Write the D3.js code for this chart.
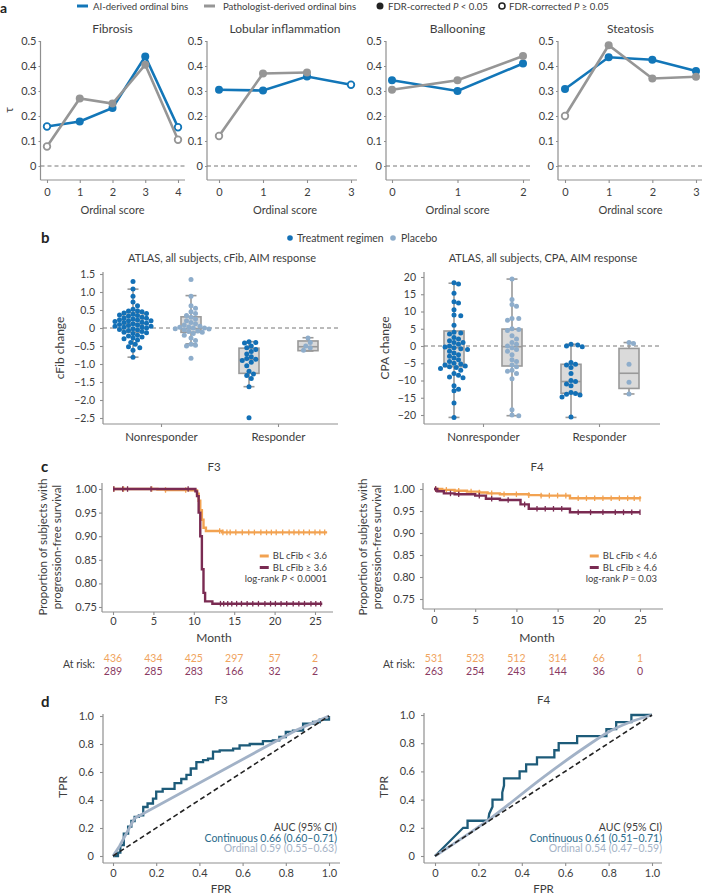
<!DOCTYPE html>
<html><head><meta charset="utf-8">
<script src="https://cdn.jsdelivr.net/npm/d3@7/dist/d3.min.js"></script>
<style>body{margin:0;background:#fff}svg{display:block}</style>
</head><body><script>
// ---------------- DATA ----------------
// Panel a
const aTitles = ["Fibrosis", "Lobular inflammation", "Ballooning", "Steatosis"];
const aScores = [[0,1,2,3,4],[0,1,2,3],[0,1,2],[0,1,2,3]];
const aiTau   = [[0.158,0.178,0.232,0.438,0.155],[0.305,0.302,0.358,0.325],[0.343,0.300,0.410],[0.308,0.435,0.425,0.380]];
const aiSig   = [[0,1,1,1,0],[1,1,1,0],[1,1,1],[1,1,1,1]];
const pathTau = [[0.078,0.270,0.250,0.405,0.105],[0.120,0.370,0.374],[0.305,0.343,0.440],[0.200,0.483,0.350,0.357]];
const pathSig = [[0,1,1,1,0],[0,1,1],[1,1,1],[0,1,1,1]];
const tauTicks = [0,0.1,0.2,0.3,0.4,0.5];

// Panel b
const bCategories = ["Nonresponder","Responder"];
const bGroups = ["Treatment regimen","Placebo"];
const cfibTxNR = [1.29,1.08,0.88,0.72,0.62,0.52,0.48,0.47,0.45,0.42,0.40,0.38,0.36,0.35,0.33,0.30,0.28,0.27,0.25,0.23,0.22,0.20,0.20,0.18,0.16,0.15,0.13,0.12,0.10,0.08,0.07,0.05,0.05,0.03,0.02,0.00,-0.02,-0.04,-0.05,-0.07,-0.10,-0.12,-0.13,-0.15,-0.20,-0.22,-0.25,-0.28,-0.30,-0.33,-0.40,-0.45,-0.52,-0.55,-0.62,-0.81];
const cfibPbNR = [1.35,0.88,0.62,0.55,0.45,0.40,0.35,0.30,0.25,0.20,0.15,0.12,0.08,0.05,0.03,0.02,0.00,0.00,-0.02,-0.03,-0.05,-0.08,-0.10,-0.12,-0.15,-0.20,-0.28,-0.35,-0.45,-0.48,-0.50,-0.84];
const cfibTxR  = [-0.38,-0.40,-0.42,-0.50,-0.55,-0.60,-0.65,-0.72,-0.80,-0.85,-0.87,-0.90,-0.95,-1.05,-1.20,-1.28,-1.32,-1.40,-1.63,-2.49];
const cfibPbR  = [-0.28,-0.40,-0.50,-0.55,-0.62];
const cfibQ3  = [0.43, 0.31, -0.56, -0.36];
const cfibMed = [0.12, -0.02, -0.87, -0.52];
const cfibQ1  = [-0.12, -0.12, -1.26, -0.63];
const cfibHi  = [1.08, 0.90, -0.38, -0.27];
const cfibLo  = [-0.81, -0.44, -1.63, -0.64];
const cfibTicks = [1.5,1.0,0.5,0,-0.5,-1.0,-1.5,-2.0,-2.5];

const cpaTxNR = [18.3,18.0,15.3,12.8,12.5,10.5,9.0,8.8,6.0,4.0,3.8,3.5,2.5,2.0,1.5,1.0,1.0,0.5,0.0,-0.3,-0.5,-0.8,-1.0,-1.5,-2.0,-2.5,-3.0,-3.5,-4.0,-4.5,-5.0,-5.2,-5.5,-5.8,-6.0,-6.2,-6.5,-7.0,-8.0,-8.5,-9.0,-9.2,-11.5,-12.5,-13.0,-16.5,-20.7];
const cpaPbNR = [19.4,13.5,12.0,11.5,8.0,8.0,7.5,5.0,4.8,4.5,3.0,2.0,1.0,0.5,0.0,-0.5,-1.0,-1.5,-2.5,-4.0,-4.5,-5.5,-6.0,-7.0,-7.3,-8.0,-9.5,-18.5,-20.0,-20.2];
const cpaTxR  = [0.5,0.3,0.0,-0.2,-4.8,-5.3,-5.5,-6.2,-8.0,-10.0,-10.3,-11.0,-11.5,-13.5,-13.8,-14.0,-14.2,-14.8,-20.6];
const cpaPbR  = [1.0,0.7,-5.3,-10.5,-13.9];
const cpaQ3  = [4.35, 4.9, -5.3, -0.7];
const cpaMed = [-0.5, -0.2, -10.3, -7.9];
const cpaQ1  = [-6.0, -5.8, -13.7, -12.3];
const cpaHi  = [18.2, 19.4, 0.5, 1.0];
const cpaLo  = [-20.7, -20.2, -20.7, -13.9];
const cpaTicks = [20,15,10,5,0,-5,-10,-15,-20];

// Panel c
const kmYTicks = [1.00,0.95,0.90,0.85,0.80,0.75];
const kmXTicks = [0,5,10,15,20,25];
const f3LowT = [0,5.5,6.5,9.5,10.4,10.6,10.8,11.0,11.2,11.5,13.5,26.5];
const f3LowS = [1,0.999,0.998,0.997,0.99,0.975,0.955,0.935,0.918,0.911,0.908,0.908];
const f3LowCens = [0.1,1.3,4.8,6.5,9.0,13.2,13.6,14.1,14.5,15.2,16.0,16.8,17.5,18.3,19.0,19.6,20.2,21.0,21.8,22.4,23.0,23.6,24.3,25.0,25.6,26.2];
const f3HighT = [0,10.2,10.4,10.6,10.8,11.0,11.2,11.4,12.3,25.9];
const f3HighS = [1,0.995,0.985,0.95,0.9,0.83,0.78,0.762,0.757,0.757];
const f3HighCens = [0.1,1.2,1.8,4.7,9.3,13.3,13.7,14.2,14.7,15.3,15.9,16.6,17.3,18.0,18.8,19.5,20.1,20.8,21.5,22.3,23.0,23.7,24.5,25.1,25.7];
const f3Risk = [["436","434","425","297","57","2"],["289","285","283","166","32","2"]];
const f4LowT = [0,1,2.5,4,5.5,6.5,8,11.5,13,16.5,25];
const f4LowS = [1,0.998,0.996,0.994,0.992,0.99,0.988,0.986,0.985,0.979,0.978];
const f4LowCens = [0.2,1.5,3,4.5,5.5,7,8.5,10,11.5,13,14,15,16,17.5,18.5,19.5,20.5,21.5,22.5,23.5,24.3,25];
const f4HighT = [0,0.4,1.2,2.5,5,6.3,8,10.5,11.5,16.5,25];
const f4HighS = [1,0.995,0.99,0.988,0.985,0.978,0.975,0.965,0.955,0.947,0.947];
const f4HighCens = [0.2,2,3,5.5,7,9,11,12.5,13.5,14.5,15.5,17.5,19,20.5,22,23,24,25];
const f4Risk = [["531","523","512","314","66","1"],["263","254","243","144","36","0"]];

// Panel d
const rocTicks = [0,0.2,0.4,0.6,0.8,1.0];
const f3ContFpr = [0,0.023,0.034,0.05,0.07,0.085,0.10,0.12,0.14,0.16,0.185,0.20,0.23,0.26,0.285,0.316,0.34,0.36,0.386,0.417,0.44,0.463,0.494,0.556,0.586,0.633,0.694,0.74,0.77,0.80,0.833,0.88,0.926,0.957,1.0];
const f3ContTpr = [0,0.024,0.078,0.16,0.21,0.25,0.28,0.29,0.35,0.375,0.41,0.46,0.48,0.48,0.52,0.55,0.58,0.625,0.67,0.685,0.695,0.745,0.755,0.767,0.79,0.80,0.82,0.826,0.85,0.886,0.895,0.945,0.957,0.974,1.0];
const f3OrdFpr = [0,0.03,0.1,0.85,1.0];
const f3OrdTpr = [0,0.07,0.27,0.90,1.0];
const f4ContFpr = [0,0.13,0.15,0.15,0.245,0.25,0.265,0.265,0.31,0.31,0.318,0.318,0.39,0.39,0.42,0.42,0.47,0.47,0.55,0.55,0.57,0.57,0.655,0.655,0.79,0.79,0.835,0.835,0.905,0.905,1.0];
const f4ContTpr = [0,0.2,0.2,0.25,0.25,0.3,0.35,0.4,0.4,0.45,0.5,0.55,0.55,0.6,0.6,0.65,0.65,0.7,0.7,0.75,0.75,0.8,0.8,0.85,0.85,0.9,0.9,0.95,0.95,1.0,1.0];
const f4OrdFpr = [0,0.25,0.5,0.7,0.8,0.9,1.0];
const f4OrdTpr = [0,0.26,0.56,0.78,0.88,0.95,1.0];
const aucLabels = [["AUC (95% CI)","Continuous 0.66 (0.60–0.71)","Ordinal 0.59 (0.55–0.63)"],["AUC (95% CI)","Continuous 0.61 (0.51–0.71)","Ordinal 0.54 (0.47–0.59)"]];

// ---------------- STYLE ----------------
const FONT = "Lato, 'Open Sans', sans-serif";
const TXT = "#3d3d3d", AX = "#8f8f8f";
const BLUE = "#1276b8", GRAY = "#969696";
const TX = "#1370b6", PB = "#8eadcb";
const ORANGE = "#f2a251", PURPLE = "#7a2b52";
const TEAL = "#1d5b79", LGB = "#a2b2c7";

const svg = d3.select("body").append("svg").attr("width",703).attr("height",896)
  .attr("font-family",FONT);

function text(x,y,s,o={}) {
  const t = svg.append("text").attr("x",x).attr("y",y).text(s)
    .attr("font-size",o.size||11).attr("text-anchor",o.anchor||"start")
    .attr("fill",o.fill||TXT);
  if (o.weight) t.attr("font-weight",o.weight);
  if (o.rot) t.attr("transform",`rotate(-90,${x},${y})`);
  return t;
}
function line(x1,y1,x2,y2,o={}) {
  const l = svg.append("line").attr("x1",x1).attr("y1",y1).attr("x2",x2).attr("y2",y2)
    .attr("stroke",o.stroke||AX).attr("stroke-width",o.w||1.2);
  if (o.dash) l.attr("stroke-dasharray",o.dash);
  return l;
}
function styleAxis(g,size) {
  g.select(".domain").remove();
  g.attr("font-family",FONT).attr("font-size",size||11);
  g.selectAll(".tick line").attr("stroke",AX).attr("stroke-width",1.1);
  g.selectAll(".tick text").attr("fill",TXT);
}
const fmt1 = d => d===0 ? "0" : d3.format(".1f")(d);

// ---------------- PANEL LABELS ----------------
text(0,13,"a",{size:14,weight:"bold",fill:"#222"});
text(41,243,"b",{size:15,weight:"bold",fill:"#222"});
text(41,472,"c",{size:15,weight:"bold",fill:"#222"});
text(41,707,"d",{size:15,weight:"bold",fill:"#222"});

// ---------------- PANEL A ----------------
{
  // legend
  const LS = 9.6;
  line(77,6,88,6,{stroke:BLUE,w:3});
  text(93,9.5,"AI-derived ordinal bins",{size:LS});
  line(204,6,215,6,{stroke:GRAY,w:3});
  text(223,9.5,"Pathologist-derived ordinal bins",{size:LS});
  svg.append("circle").attr("cx",380).attr("cy",6).attr("r",3.5).attr("fill","#222");
  const t1 = text(388,9.5,"FDR-corrected ",{size:LS});
  t1.append("tspan").attr("font-style","italic").text("P");
  t1.append("tspan").text(" < 0.05");
  svg.append("circle").attr("cx",502).attr("cy",6).attr("r",3).attr("fill","#fff").attr("stroke","#222").attr("stroke-width",1.6);
  const t2 = text(509,9.5,"FDR-corrected ",{size:LS});
  t2.append("tspan").attr("font-style","italic").text("P");
  t2.append("tspan").text(" ≥ 0.05");

  const layout = [{ax:40.5,x0:47,x1:178,xr:185},{ax:207,x0:219,x1:351,xr:357},{ax:386,x0:392,x1:523,xr:530},{ax:558,x0:565,x1:696,xr:702}];
  const y = d3.scaleLinear().domain([0,0.5]).range([166,41]);
  const yBottom = 180;
  aTitles.forEach((title,i) => {
    const L = layout[i];
    const x = d3.scaleLinear().domain([0,aScores[i].length-1]).range([L.x0,L.x1]);
    const gy = svg.append("g").attr("transform",`translate(${L.ax},0)`)
      .call(d3.axisLeft(y).tickValues(tauTicks).tickSize(2).tickPadding(2).tickFormat(fmt1));
    styleAxis(gy,11);
    line(L.ax,41,L.ax,yBottom);
    const gx = svg.append("g").attr("transform",`translate(0,${yBottom})`)
      .call(d3.axisBottom(x).tickValues(aScores[i]).tickSize(3).tickPadding(5).tickFormat(d3.format("d")));
    styleAxis(gx,11);
    line(L.ax,yBottom,L.xr,yBottom);
    line(L.ax,y(0),L.xr,y(0),{stroke:"#777",w:1,dash:"4,3"});
    text((L.x0+L.x1)/2,32.5,title,{size:12,anchor:"middle"});
    text((L.x0+L.x1)/2,214,"Ordinal score",{size:11,anchor:"middle"});
    const lg = d3.line().x((d,j)=>x(j)).y(d=>y(d));
    const series = [[aiTau[i],aiSig[i],BLUE],[pathTau[i],pathSig[i],GRAY]];
    series.forEach(([vals,sig,col]) => {
      svg.append("path").attr("d",lg(vals)).attr("fill","none").attr("stroke",col).attr("stroke-width",2.6);
      vals.forEach((v,j) => {
        const c = svg.append("circle").attr("cx",x(j)).attr("cy",y(v));
        if (sig[j]) c.attr("r",4).attr("fill",col);
        else c.attr("r",3.3).attr("fill","#fff").attr("stroke",col).attr("stroke-width",1.8);
      });
    });
  });
  text(13,110,"τ",{size:12,anchor:"middle",rot:true});
}

// ---------------- PANEL B ----------------
function swarm(values,cx,yScale,r) {
  const placed = [];
  values.slice().sort((a,b)=>b-a).forEach(v => {
    const yy = yScale(v);
    const offs = [0]; for (let k=1;k<30;k++) offs.push(k*r*0.9,-k*r*0.9);
    for (const o of offs) {
      const xx = cx+o;
      if (placed.every(p => (p.x-xx)**2+(p.y-yy)**2 >= (2*r*0.92)**2)) { placed.push({x:xx,y:yy}); break; }
    }
  });
  return placed;
}
{
  svg.append("circle").attr("cx",290).attr("cy",238).attr("r",2.8).attr("fill",TX);
  text(297,241.5,bGroups[0],{size:10.5});
  svg.append("circle").attr("cx",393).attr("cy",238).attr("r",2.8).attr("fill",PB);
  text(401,241.5,bGroups[1],{size:10.5});

  const plots = [
    {ax:103,xr:338,yTop:272,yBot:424,dom:[1.5,-2.5],rng:[274,418],ticks:cfibTicks,fmt:fmt1,
     gx:[133,191,249,308],cx:[161,278],title:"ATLAS, all subjects, cFib, AIM response",tx:222,ylab:"cFib change",ylx:64,
     pts:[cfibTxNR,cfibPbNR,cfibTxR,cfibPbR],q3:cfibQ3,med:cfibMed,q1:cfibQ1,hi:cfibHi,lo:cfibLo},
    {ax:424,xr:660,yTop:272,yBot:424,dom:[20,-20],rng:[277,415],ticks:cpaTicks,fmt:d3.format("d"),
     gx:[454,512,571,629],cx:[483,599],title:"ATLAS, all subjects, CPA, AIM response",tx:543,ylab:"CPA change",ylx:389,
     pts:[cpaTxNR,cpaPbNR,cpaTxR,cpaPbR],q3:cpaQ3,med:cpaMed,q1:cpaQ1,hi:cpaHi,lo:cpaLo}
  ];
  plots.forEach(P => {
    const y = d3.scaleLinear().domain(P.dom).range(P.rng);
    const gy = svg.append("g").attr("transform",`translate(${P.ax},0)`)
      .call(d3.axisLeft(y).tickValues(P.ticks).tickSize(3).tickPadding(5).tickFormat(P.fmt));
    styleAxis(gy,10.5);
    line(P.ax,P.yTop,P.ax,P.yBot);
    const xc = d3.scaleOrdinal().domain(bCategories).range(P.cx);
    const gx = svg.append("g").attr("transform",`translate(0,${P.yBot})`)
      .call(d3.axisBottom(xc).tickSize(3).tickPadding(6));
    styleAxis(gx,11.5);
    line(P.ax,P.yBot,P.xr,P.yBot);
    text(P.tx,261.5,P.title,{size:11,anchor:"middle"});
    text(P.ylx,348,P.ylab,{size:12,anchor:"middle",rot:true});
    line(P.ax,y(0),P.xr,y(0),{stroke:"#777",w:1,dash:"4,3"});
    P.gx.forEach((gxp,i) => {
      const bw = 20, cw = 11;
      line(gxp,y(P.hi[i]),gxp,y(P.q3[i]),{stroke:"#999",w:1.6});
      line(gxp,y(P.q1[i]),gxp,y(P.lo[i]),{stroke:"#999",w:1.6});
      line(gxp-cw/2,y(P.hi[i]),gxp+cw/2,y(P.hi[i]),{stroke:"#999",w:1.6});
      line(gxp-cw/2,y(P.lo[i]),gxp+cw/2,y(P.lo[i]),{stroke:"#999",w:1.6});
      svg.append("rect").attr("x",gxp-bw/2).attr("y",y(P.q3[i])).attr("width",bw)
        .attr("height",y(P.q1[i])-y(P.q3[i])).attr("fill","#dadada").attr("stroke","#999").attr("stroke-width",1.6);
      line(gxp-bw/2,y(P.med[i]),gxp+bw/2,y(P.med[i]),{stroke:"#999",w:1.6});
    });
    P.gx.forEach((gxp,i) => {
      const col = i%2===0 ? TX : PB;
      swarm(P.pts[i],gxp,y,2.5).forEach(p => {
        svg.append("circle").attr("cx",p.x).attr("cy",p.y).attr("r",2.5).attr("fill",col);
      });
    });
  });
}

// ---------------- PANEL C ----------------
function stepVal(T,S,t){ let v=S[0]; for(let i=0;i<T.length;i++){ if(T[i]<=t) v=S[i]; } return v; }
function km(C) {
  const x = d3.scaleLinear().domain([0,25]).range([C.x0,C.x25]);
  const y = d3.scaleLinear().domain([0.75,1.0]).range([C.y75,C.y100]);
  const gy = svg.append("g").attr("transform",`translate(${C.ax},0)`)
    .call(d3.axisLeft(y).tickValues(kmYTicks).tickSize(3).tickPadding(C.ypad).tickFormat(d3.format(".2f")));
  styleAxis(gy,11);
  line(C.ax,483,C.ax,C.xy);
  const gx = svg.append("g").attr("transform",`translate(0,${C.xy})`)
    .call(d3.axisBottom(x).tickValues(kmXTicks).tickSize(3).tickPadding(C.xpad));
  styleAxis(gx,11);
  line(C.ax,C.xy,C.xr,C.xy);
  text((C.x0+C.x25)/2,471,C.title,{size:11.5,anchor:"middle"});
  text((C.x0+C.x25)/2,642,"Month",{size:12,anchor:"middle"});
  text(C.yl1,547,"Proportion of subjects with",{size:11.5,anchor:"middle",rot:true});
  text(C.yl2,547,"progression-free survival",{size:11.5,anchor:"middle",rot:true});
  const lg = d3.line().x(d=>x(d[0])).y(d=>y(d[1])).curve(d3.curveStepAfter);
  C.series.forEach(([T,S,cens,col]) => {
    svg.append("path").attr("d",lg(T.map((t,i)=>[t,S[i]]))).attr("fill","none").attr("stroke",col).attr("stroke-width",2.4);
    cens.forEach(t => {
      const yy = y(stepVal(T,S,t));
      line(x(t),yy-2.8,x(t),yy+2.8,{stroke:col,w:1.3});
    });
  });
  // legend (line placed just left of its right-aligned label)
  C.legend.forEach((L,i) => {
    const yy = 556 + i*11.5;
    const t = text(C.lr,yy+3.4,L[0],{size:9.5,anchor:"end"});
    const w = t.node().getComputedTextLength();
    line(C.lr-w-13,yy,C.lr-w-4,yy,{stroke:L[1],w:3});
  });
  const lt = text(C.lr,582.4,"log-rank ",{size:9.5,anchor:"end"});
  lt.append("tspan").attr("font-style","italic").text("P");
  lt.append("tspan").text(C.pval);
  // at risk
  text(C.arx,668,"At risk:",{size:10.5,anchor:"end"});
  C.risk.forEach((row,r) => {
    row.forEach((n,j) => text(x(kmXTicks[j]),661.5+r*13,n,{size:10.5,anchor:"middle",fill:r===0?"#f0a460":"#8a3a62"}));
  });
}
km({ax:102,x0:113,x25:315,y75:607,y100:489,xy:612,xr:333,ypad:2,xpad:2,title:"F3",yl1:47,yl2:61,
  series:[[f3LowT,f3LowS,f3LowCens,ORANGE],[f3HighT,f3HighS,f3HighCens,PURPLE]],
  legend:[["BL cFib < 3.6",ORANGE],["BL cFib ≥ 3.6",PURPLE]],lr:327,pval:" < 0.0001",
  risk:f3Risk,arx:95});
km({ax:423,x0:434,x25:640,y75:599,y100:489,xy:609,xr:663,ypad:5,xpad:4,title:"F4",yl1:367,yl2:381,
  series:[[f4LowT,f4LowS,f4LowCens,ORANGE],[f4HighT,f4HighS,f4HighCens,PURPLE]],
  legend:[["BL cFib < 4.6",ORANGE],["BL cFib ≥ 4.6",PURPLE]],lr:657,pval:" = 0.03",
  risk:f4Risk,arx:415});

// ---------------- PANEL D ----------------
function roc(C) {
  const x = d3.scaleLinear().domain([0,1]).range([C.x0,C.x1]);
  const y = d3.scaleLinear().domain([0,1]).range([C.y0,C.y1]);
  const gy = svg.append("g").attr("transform",`translate(${C.ax},0)`)
    .call(d3.axisLeft(y).tickValues(rocTicks).tickSize(3).tickPadding(6).tickFormat(fmt1));
  styleAxis(gy,11);
  line(C.ax,C.y1-2,C.ax,863);
  const gx = svg.append("g").attr("transform",`translate(0,863)`)
    .call(d3.axisBottom(x).tickValues(rocTicks).tickSize(3).tickPadding(3).tickFormat(fmt1));
  styleAxis(gx,11);
  line(C.ax,863,C.xr,863);
  text((C.x0+C.x1)/2,704,C.title,{size:11.5,anchor:"middle"});
  text((C.x0+C.x1)/2,893,"FPR",{size:11.5,anchor:"middle"});
  text(C.tprx,787,"TPR",{size:12,anchor:"middle",rot:true});
  const lg = d3.line().x(d=>x(d[0])).y(d=>y(d[1])).curve(C.stepCurve);
  svg.append("path").attr("d",lg(C.cf.map((f,i)=>[f,C.ct[i]]))).attr("fill","none").attr("stroke",TEAL).attr("stroke-width",2.3);
  const lo = d3.line().x(d=>x(d[0])).y(d=>y(d[1])).curve(C.ordCurve);
  svg.append("path").attr("d",lo(C.of.map((f,i)=>[f,C.ot[i]]))).attr("fill","none").attr("stroke",LGB).attr("stroke-width",2.8);
  line(x(0),y(0),x(1),y(1),{stroke:"#222",w:1.6,dash:"5,3"});
  const cols = [TXT,"#2a6b8c","#a5b3c6"];
  C.auc.forEach((s,i) => text(C.tr,831+i*10.6,s,{size:10.5,anchor:"end",fill:cols[i]}));
}
roc({ax:103,x0:113,x1:329,y0:856,y1:716,xr:340,title:"F3",tprx:67,tr:337,
  cf:f3ContFpr,ct:f3ContTpr,of:f3OrdFpr,ot:f3OrdTpr,stepCurve:d3.curveStepAfter,ordCurve:d3.curveLinear,auc:aucLabels[0]});
roc({ax:424,x0:435,x1:652,y0:856,y1:715,xr:662,title:"F4",tprx:388,tr:662,
  cf:f4ContFpr,ct:f4ContTpr,of:f4OrdFpr,ot:f4OrdTpr,stepCurve:d3.curveLinear,ordCurve:d3.curveMonotoneX,auc:aucLabels[1]});
</script></body></html>
